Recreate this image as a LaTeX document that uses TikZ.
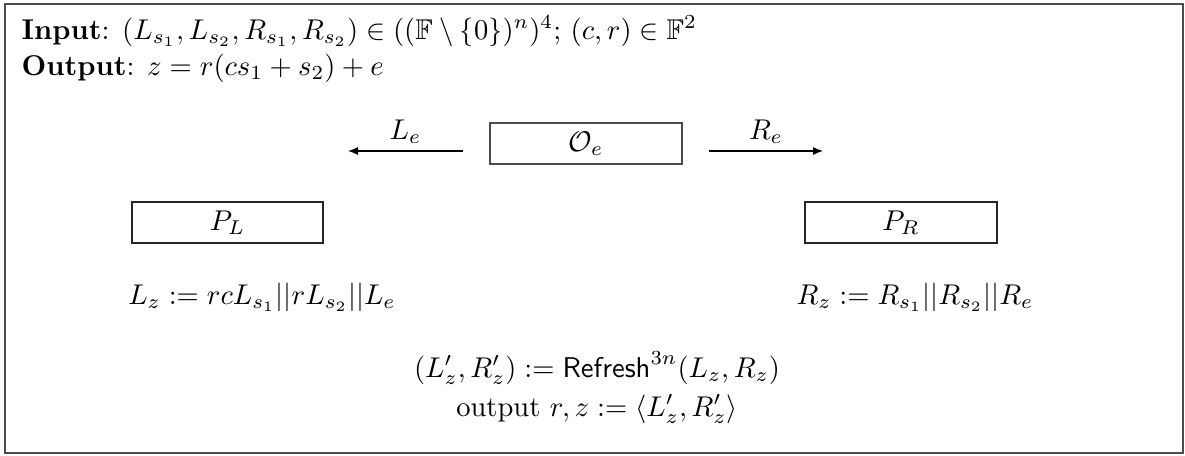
\documentclass[tikz,border=0pt]{standalone}
\usepackage{amsmath,amssymb}
\usetikzlibrary{arrows.meta}
\begin{document}
\begin{tikzpicture}[x=0.35pt,y=-0.35pt,
  box/.style={draw=black!70,line width=0.4pt,inner sep=0pt},
  pbox/.style={draw=black!85,line width=0.4pt,inner sep=0pt},
  txt/.style={inner sep=0pt},
  arr/.style={-{Latex[length=3.5pt,width=2.8pt]},line width=0.4pt}]
\useasboundingbox (0,0) rectangle (1185,455);
\draw[black!70,line width=0.5pt] (5,4) rectangle (1183,453);
\node[txt,anchor=base west] (in) at (21,39) {\textbf{Input}: $(L_{s_1},L_{s_2},R_{s_1},R_{s_2})\in((\mathbb{F}\setminus\{0\})^n)^4$; $(c,r)\in\mathbb{F}^2$};
\node[txt,anchor=base west] (out) at (21,75) {\textbf{Output}: $z=r(cs_1+s_2)+e$};
\node[box,minimum width=192*0.35pt,minimum height=41*0.35pt] (oe) at (586,143.5) {$\mathcal{O}_e$};
\coordinate (la) at (463,151);
\coordinate (lb) at (348,151);
\coordinate (ra) at (709,151);
\coordinate (rb) at (823,151);
\draw[arr] (la) -- node[txt,above=2.5pt] (le) {$L_e$} (lb);
\draw[arr] (ra) -- node[txt,above=2.5pt] (re) {$R_e$} (rb);
\node[pbox,minimum width=191*0.35pt,minimum height=41*0.35pt] (pl) at (227.5,222.5) {$P_L$};
\node[pbox,minimum width=192*0.35pt,minimum height=41*0.35pt] (pr) at (901,222.5) {$P_R$};
\node[txt,anchor=base] (lz) at (262,304) {$L_z:=rcL_{s_1}||rL_{s_2}||L_e$};
\node[txt,anchor=base] (rz) at (915,304) {$R_z:=R_{s_1}||R_{s_2}||R_e$};
\node[txt,anchor=base] (rf) at (597,377) {$(L'_z,R'_z):=\mathsf{Refresh}^{3n}(L_z,R_z)$};
\node[txt,anchor=base] (op) at (597,416) {output $r,z:=\langle L'_z,R'_z\rangle$};
\end{tikzpicture}
\end{document}
